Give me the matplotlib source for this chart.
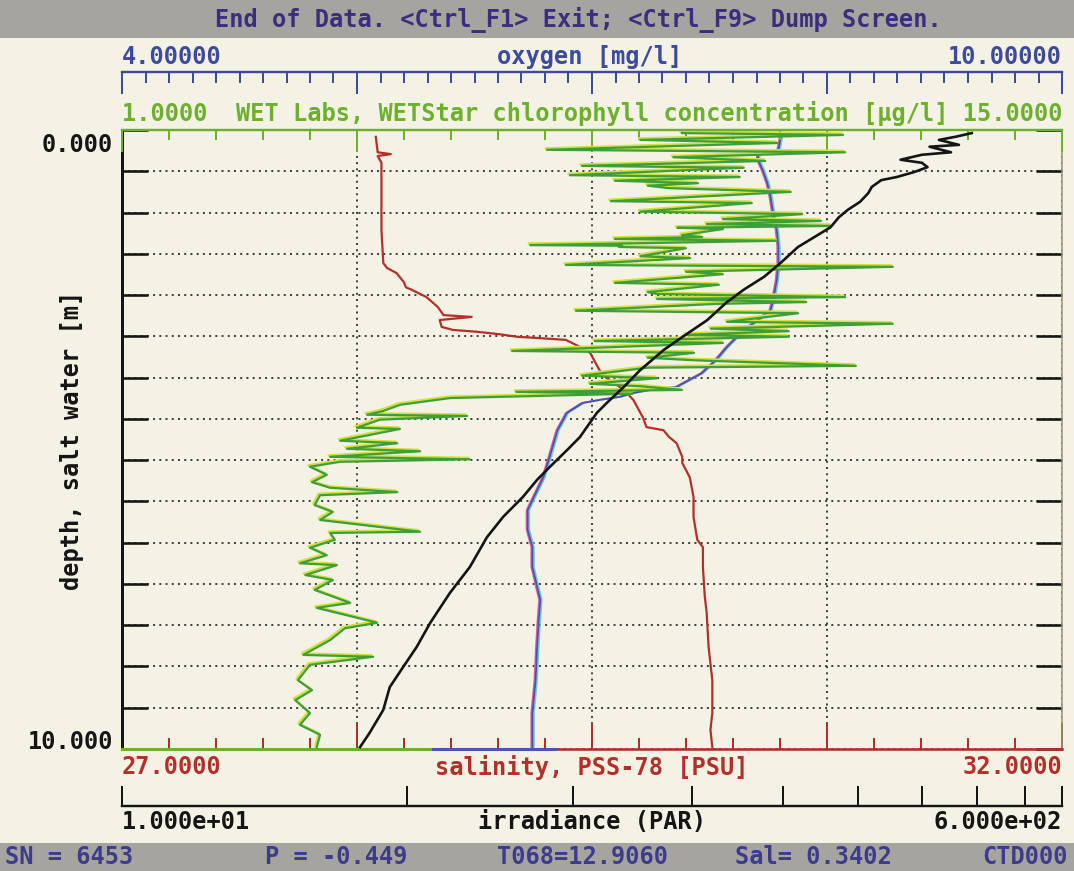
import matplotlib
matplotlib.use("Agg")
import numpy as np
import matplotlib.pyplot as plt
from matplotlib.ticker import NullLocator, FixedLocator
from matplotlib.patches import Rectangle
from matplotlib.transforms import offset_copy

sal_depth = [0.11, 0.36, 0.39, 0.42, 0.53, 1.08, 1.62, 2.15, 2.23, 2.31,
             2.46, 2.54, 2.58, 2.70, 2.86, 2.99, 3.02, 3.07, 3.18, 3.23,
             3.26, 3.30, 3.34, 3.36, 3.39, 3.51, 3.60, 3.88, 3.99, 4.09,
             4.20, 4.36, 4.64, 4.80, 4.85, 4.96, 5.06, 5.28, 5.38, 5.61,
             5.93, 6.25, 6.62, 6.74, 7.06, 7.54, 7.80, 8.35, 8.89, 9.16,
             9.42, 9.69, 9.97]
sal_vals = [28.35, 28.36, 28.43, 28.36, 28.38, 28.38, 28.38, 28.39, 28.41, 28.46,
            28.50, 28.51, 28.54, 28.62, 28.68, 28.71, 28.86, 28.69, 28.70, 28.76,
            28.89, 29.01, 29.10, 29.21, 29.36, 29.44, 29.49, 29.54, 29.57, 29.62,
            29.67, 29.72, 29.77, 29.79, 29.88, 29.91, 29.95, 29.98, 29.98, 30.02,
            30.04, 30.04, 30.06, 30.09, 30.09, 30.10, 30.11, 30.12, 30.14, 30.14,
            30.14, 30.13, 30.14]

par_depth = [0.05, 0.11, 0.16, 0.24, 0.27, 0.36, 0.40, 0.48, 0.53, 0.60,
             0.68, 0.76, 0.81, 0.92, 1.02, 1.16, 1.29, 1.41, 1.57, 1.73,
             1.89, 2.15, 2.37, 2.58, 2.79, 3.07, 3.34, 3.55, 3.88, 4.15,
             4.41, 4.57, 4.96, 5.17, 5.44, 5.65, 5.93, 6.25, 6.58, 7.06,
             7.48, 7.96, 8.35, 8.68, 9.00, 9.37, 9.74, 9.97]
par_vals = [405, 377, 351, 383, 337, 370, 326, 297, 326, 334,
            315, 292, 273, 262, 258, 249, 236, 227, 219, 204,
            190, 176, 164, 150, 139, 128, 115, 106, 95.5, 89.0,
            82.6, 79.1, 73.5, 69.5, 64.5, 61.0, 57.3, 52.6, 49.0, 45.5,
            41.7, 38.3, 36.1, 34.0, 32.1, 31.2, 29.4, 28.2]

ox_depth = [0.05, 0.32, 0.36, 0.48, 0.65, 0.86, 1.08, 1.41, 1.62, 1.89,
            2.15, 2.42, 2.70, 2.91, 3.07, 3.23, 3.51, 3.72, 3.93, 4.15,
            4.20, 4.25, 4.31, 4.36, 4.41, 4.57, 4.85, 5.28, 5.61, 5.98,
            6.14, 6.46, 6.74, 7.06, 7.38, 7.59, 7.92, 8.35, 8.89, 9.42,
            9.97]
ox_vals = [8.21, 8.19, 8.06, 8.06, 8.09, 8.12, 8.14, 8.16, 8.18, 8.19,
           8.19, 8.18, 8.16, 8.14, 8.06, 7.97, 7.86, 7.79, 7.70, 7.54,
           7.37, 7.26, 7.18, 7.05, 6.94, 6.84, 6.78, 6.73, 6.69, 6.62,
           6.59, 6.59, 6.62, 6.62, 6.65, 6.67, 6.66, 6.65, 6.64, 6.62,
           6.62]

chl_depth = [0.05, 0.08, 0.16, 0.21, 0.32, 0.36, 0.44, 0.50, 0.58, 0.61,
             0.73, 0.76, 0.82, 0.86, 0.90, 0.94, 1.00, 1.15, 1.18, 1.32,
             1.36, 1.44, 1.47, 1.52, 1.55, 1.58, 1.60, 1.70, 1.73, 1.76,
             1.79, 1.86, 1.87, 1.89, 1.91, 2.04, 2.07, 2.18, 2.21, 2.29,
             2.33, 2.47, 2.50, 2.62, 2.65, 2.70, 2.73, 2.78, 2.81, 2.92,
             2.96, 3.10, 3.13, 3.21, 3.25, 3.31, 3.34, 3.41, 3.44, 3.57,
             3.60, 3.68, 3.72, 3.81, 3.84, 3.97, 4.01, 4.10, 4.14, 4.20,
             4.23, 4.26, 4.33, 4.44, 4.54,
             4.60, 4.62, 4.68, 4.81, 4.83, 5.02, 5.06, 5.15, 5.19, 5.28,
             5.32, 5.36, 5.44, 5.57, 5.69, 5.78, 5.85, 5.90, 6.06, 6.17,
             6.30, 6.49, 6.51, 6.62, 6.75, 6.87, 7.00, 7.03, 7.19, 7.27,
             7.43, 7.64, 7.72, 7.96, 8.05, 8.24, 8.48, 8.51, 8.64, 8.89,
             9.05, 9.21, 9.42, 9.61, 9.77, 9.97]
chl_vals = [9.34, 11.74, 8.72, 10.76, 7.33, 11.77, 9.21, 10.58, 7.85, 10.26,
            7.67, 10.20, 8.34, 9.58, 8.83, 9.15, 10.96, 8.28, 10.38, 8.72,
            11.13, 9.95, 11.41, 9.71, 11.56, 9.27, 9.95, 9.34, 9.64, 8.34,
            10.76, 7.08, 8.45, 8.40, 9.40, 8.72, 9.46, 7.61, 12.48, 9.40,
            9.95, 8.34, 9.89, 8.83, 8.97, 11.77, 8.97, 11.19, 9.83, 7.76,
            11.07, 10.01, 12.48, 9.77, 10.93, 9.40, 10.93, 8.04, 9.95, 6.81,
            9.52, 8.83, 9.52, 11.93, 8.83, 7.85, 8.97, 7.97, 8.72, 9.34,
            6.87, 8.61, 5.89, 5.14, 4.89,
            4.65, 6.14, 4.84, 4.50, 5.14, 4.25, 5.10, 4.35, 5.44, 4.10,
            6.18, 4.25, 3.80, 4.05, 3.83, 4.10, 5.10, 3.95, 3.87, 4.14,
            3.95, 5.44, 4.10, 4.17, 3.80, 4.05, 3.65, 4.20, 3.73, 4.14,
            3.87, 4.40, 3.90, 4.80, 4.32, 4.10, 3.70, 4.74, 3.80, 3.62,
            3.83, 3.58, 3.80, 3.65, 3.95, 3.90]

# axis ranges / ticks
depth_range = (0.0, 10.0)
ox_range = (4.0, 10.0)
chl_range = (1.0, 15.0)
sal_range = (27.0, 32.0)
par_range = (10.0, 600.0)
par_bar_ticks = [10, 20, 30, 40, 50, 60, 70, 80, 90, 98.5]

# ---------------- styling ----------------
W, H = 1074, 871
PT = 0.72
BG = '#f4f2e5'
BAR = '#a6a49e'
C_OX = '#3c4b9e'
C_CHL = '#6cb02c'
C_SAL = '#b3302a'
C_PAR = '#151515'
C_BARTXT = '#3a2f7c'
FONT = dict(family='DejaVu Sans Mono', weight='bold', size=17)

fig = plt.figure(figsize=(W / 100, H / 100), dpi=100)
fig.patch.set_facecolor(BG)


def fx(px):
    return px / W


def fy(py):
    return 1 - py / H


def txt(x, y, s, color, ha='left', **kw):
    d = dict(FONT)
    d.update(kw)
    fig.text(fx(x), fy(y), s, color=color, ha=ha, va='center', **d)


def even_ticks(lo, hi, n):
    return list(np.linspace(lo, hi, n + 1))


L, R, T, B = 122, 1062, 130, 749

# status bars
fig.add_artist(Rectangle((0, fy(38)), 1, 38 / H, transform=fig.transFigure,
                         facecolor=BAR, edgecolor='none', zorder=0))
fig.add_artist(Rectangle((0, 0), 1, (H - 843) / H, transform=fig.transFigure,
                         facecolor=BAR, edgecolor='none', zorder=0))

# ---------------- main axes (salinity + depth) ----------------
ax = fig.add_axes([fx(L), fy(B), fx(R) - fx(L), fy(T) - fy(B)])
ax.set_facecolor(BG)
ax.set_xlim(*sal_range)
ax.set_ylim(depth_range[1], depth_range[0])
ax.set_yticks(even_ticks(*depth_range, 15))
ax.xaxis.set_major_locator(FixedLocator(even_ticks(*sal_range, 4)))
ax.xaxis.set_minor_locator(FixedLocator(even_ticks(*sal_range, 20)))
ax.tick_params(axis='y', which='major', direction='in', length=26 * PT,
               width=2.6 * PT, color=C_PAR, left=True, right=True,
               labelleft=False)
ax.tick_params(axis='x', which='major', direction='in', length=26 * PT,
               width=2.0 * PT, color=C_SAL, bottom=True, top=False,
               labelbottom=False)
ax.tick_params(axis='x', which='minor', direction='in', length=11 * PT,
               width=2.0 * PT, color=C_SAL, bottom=True, top=False)
ax.grid(True, which='major', color='#3a3a3a', linestyle=(0, (1, 2.2)),
        linewidth=1.4)
ax.spines['left'].set_color(C_PAR)
ax.spines['left'].set_linewidth(3 * PT)
ax.spines['bottom'].set_color(C_SAL)
ax.spines['bottom'].set_linewidth(2.6 * PT)
ax.spines['top'].set_visible(False)
ax.spines['right'].set_color('#8a9a70')
ax.spines['right'].set_linewidth(1.5 * PT)

ax.plot(sal_vals, sal_depth, color=C_SAL, lw=1.6, zorder=3)
# coloured overlays on the bottom axis line
ax.plot([0, 0.331], [0, 0], transform=ax.transAxes, color=C_CHL, lw=2.2,
        clip_on=False, zorder=4)
ax.plot([0.331, 0.461], [0, 0], transform=ax.transAxes, color='#4a55b5',
        lw=2.2, clip_on=False, zorder=4)

# ---------------- oxygen ----------------
ax_ox = ax.twiny()
ax_ox.set_xlim(*ox_range)
for s in ['left', 'right', 'bottom']:
    ax_ox.spines[s].set_visible(False)
ax_ox.spines['top'].set_position(('outward', 58 * PT))
ax_ox.spines['top'].set_color(C_OX)
ax_ox.spines['top'].set_linewidth(2.4 * PT)
ax_ox.xaxis.set_major_locator(FixedLocator(even_ticks(*ox_range, 4)))
ax_ox.xaxis.set_minor_locator(FixedLocator(even_ticks(*ox_range, 40)))
ax_ox.tick_params(axis='x', which='major', direction='in', length=22 * PT,
                  width=2 * PT, color=C_OX, labeltop=False)
ax_ox.tick_params(axis='x', which='minor', direction='in', length=11 * PT,
                  width=2 * PT, color=C_OX)
tr = ax_ox.transData
ax_ox.plot(ox_vals, ox_depth, color='#d06090', lw=1.1,
           transform=offset_copy(tr, fig=fig, x=-1.3, y=0, units='dots'))
ax_ox.plot(ox_vals, ox_depth, color='#6cc6e6', lw=1.1,
           transform=offset_copy(tr, fig=fig, x=1.6, y=0, units='dots'))
ax_ox.plot(ox_vals, ox_depth, color='#4a4fb0', lw=1.3)

# ---------------- chlorophyll ----------------
ax_chl = ax.twiny()
ax_chl.set_xlim(*chl_range)
for s in ['left', 'right', 'bottom']:
    ax_chl.spines[s].set_visible(False)
ax_chl.spines['top'].set_color(C_CHL)
ax_chl.spines['top'].set_linewidth(2.4 * PT)
ax_chl.xaxis.set_major_locator(FixedLocator(even_ticks(*chl_range, 4)))
ax_chl.xaxis.set_minor_locator(FixedLocator(even_ticks(*chl_range, 20)))
ax_chl.tick_params(axis='x', which='major', direction='in', length=22 * PT,
                   width=2 * PT, color=C_CHL, labeltop=False)
ax_chl.tick_params(axis='x', which='minor', direction='in', length=10 * PT,
                   width=2 * PT, color=C_CHL)
tr = ax_chl.transData
ax_chl.plot(chl_vals, chl_depth, color='#d2e040', lw=1.7,
            transform=offset_copy(tr, fig=fig, x=-1.5, y=1.5, units='dots'))
ax_chl.plot(chl_vals, chl_depth, color='#3e9e3a', lw=1.6)

# ---------------- irradiance ----------------
ax_par = ax.twiny()
ax_par.set_xscale('log')
ax_par.set_xlim(*par_range)
ax_par.set_axis_off()
ax_par.plot(par_vals, par_depth, color=C_PAR, lw=1.9)

ax_pb = fig.add_axes([fx(L), fy(806), fx(R) - fx(L), 0.0005])
ax_pb.patch.set_visible(False)
ax_pb.set_xscale('log')
ax_pb.set_xlim(10, 98.5)
for s in ['left', 'right', 'top']:
    ax_pb.spines[s].set_visible(False)
ax_pb.spines['bottom'].set_color(C_PAR)
ax_pb.spines['bottom'].set_linewidth(2.4 * PT)
ax_pb.set_xticks(par_bar_ticks)
ax_pb.xaxis.set_minor_locator(NullLocator())
ax_pb.set_yticks([])
ax_pb.tick_params(axis='x', direction='in', length=20 * PT, width=2 * PT,
                  color=C_PAR, labelbottom=False)

# ---------------- texts ----------------
txt(578, 20, 'End of Data. <Ctrl_F1> Exit; <Ctrl_F9> Dump Screen.', C_BARTXT,
    ha='center')
txt(122, 57, '4.00000', C_OX)
txt(590, 57, 'oxygen [mg/l]', C_OX, ha='center')
txt(1062, 57, '10.00000', C_OX, ha='right')
txt(122, 114, '1.0000  WET Labs, WETStar chlorophyll concentration [µg/l] 15.0000',
    C_CHL)
txt(113, 145, '0.000', C_PAR, ha='right')
txt(113, 742, '10.000', C_PAR, ha='right')
fig.text(fx(72), fy(440), 'depth, salt water [m]', rotation=90, color=C_PAR,
         ha='center', va='center', **FONT)
txt(122, 767, '27.0000', C_SAL)
txt(592, 767, 'salinity, PSS-78 [PSU]', C_SAL, ha='center')
txt(1062, 767, '32.0000', C_SAL, ha='right')
txt(122, 822, '1.000e+01', C_PAR)
txt(592, 822, 'irradiance (PAR)', C_PAR, ha='center')
txt(1062, 822, '6.000e+02', C_PAR, ha='right')
C_BOT = '#3c3c8c'
txt(5, 857, 'SN = 6453', C_BOT)
txt(265, 857, 'P = -0.449', C_BOT)
txt(497, 857, 'T068=12.9060', C_BOT)
txt(735, 857, 'Sal= 0.3402', C_BOT)
txt(1068, 857, 'CTD000', C_BOT, ha='right')

fig.savefig('out.png', dpi=100, facecolor=fig.get_facecolor())
